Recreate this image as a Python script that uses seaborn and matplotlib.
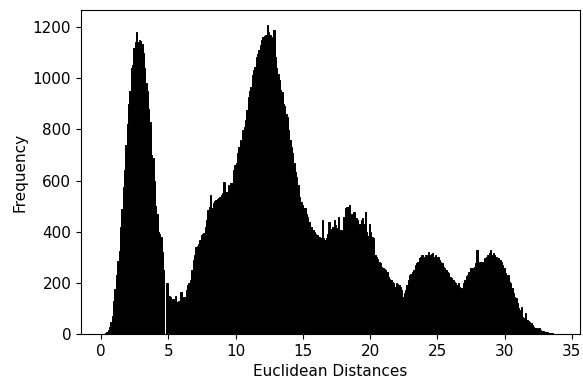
import numpy as np
import pandas as pd
import matplotlib
matplotlib.use("Agg")
import matplotlib.pyplot as plt
import seaborn as sns

# Histogram of pairwise Euclidean distances: counts per 0.1-wide bin from 0 to 34
bin_start = 0.0
bin_width = 0.1
bin_counts = [
    # 0 - 1
    0, 0, 1, 3, 6, 14, 28, 45, 70, 130,
    # 1 - 2
    175, 230, 285, 325, 420, 490, 575, 640, 740, 820,
    # 2 - 3
    900, 950, 1040, 1050, 1120, 1140, 1180, 1140, 1150, 1145,
    # 3 - 4
    1135, 1100, 1040, 980, 950, 880, 830, 700, 690, 600,
    # 4 - 5
    500, 470, 400, 390, 380, 320, 250, 0, 200, 198,
    # 5 - 6
    150, 146, 113, 135, 133, 149, 126, 128, 125, 165,
    # 6 - 7
    140, 146, 146, 172, 191, 200, 211, 250, 289, 309,
    # 7 - 8
    341, 345, 350, 367, 387, 390, 395, 419, 445, 484,
    # 8 - 9
    495, 543, 492, 511, 520, 524, 526, 530, 537, 545,
    # 9 - 10
    550, 595, 550, 555, 582, 563, 589, 592, 641, 660,
    # 10 - 11
    670, 706, 732, 760, 745, 797, 810, 836, 875, 927,
    # 11 - 12
    950, 966, 1012, 1031, 1044, 1083, 1095, 1109, 1129, 1148,
    # 12 - 13
    1161, 1165, 1168, 1207, 1182, 1170, 1161, 1135, 1187, 1083,
    # 13 - 14
    1040, 1018, 992, 953, 946, 901, 890, 862, 849, 797,
    # 14 - 15
    758, 730, 706, 667, 634, 615, 582, 537, 517, 504,
    # 15 - 16
    491, 491, 470, 458, 439, 419, 419, 406, 400, 393,
    # 16 - 17
    387, 380, 378, 374, 445, 374, 367, 375, 393, 439,
    # 17 - 18
    393, 410, 419, 445, 426, 413, 458, 406, 406, 399,
    # 18 - 19
    458, 491, 497, 497, 504, 432, 471, 478, 478, 452,
    # 19 - 20
    445, 426, 430, 445, 452, 432, 478, 400, 385, 432,
    # 20 - 21
    400, 380, 374, 309, 300, 295, 283, 276, 263, 257,
    # 21 - 22
    255, 250, 244, 224, 215, 211, 205, 198, 185, 198,
    # 22 - 23
    195, 192, 185, 172, 146, 160, 172, 192, 211, 231,
    # 23 - 24
    235, 244, 250, 270, 278, 283, 296, 302, 309, 296,
    # 24 - 25
    300, 309, 302, 322, 309, 312, 315, 302, 309, 296,
    # 25 - 26
    302, 289, 283, 276, 263, 257, 250, 244, 237, 224,
    # 26 - 27
    218, 210, 205, 198, 191, 198, 185, 178, 172, 198,
    # 27 - 28
    211, 225, 231, 244, 257, 257, 260, 263, 276, 328,
    # 28 - 29
    276, 283, 280, 276, 283, 296, 302, 309, 315, 330,
    # 29 - 30
    309, 315, 310, 302, 296, 296, 289, 280, 270, 257,
    # 30 - 31
    237, 225, 231, 205, 198, 178, 159, 145, 139, 120,
    # 31 - 32
    100, 94, 107, 68, 61, 81, 55, 50, 48, 42,
    # 32 - 33
    35, 29, 25, 22, 16, 22, 16, 12, 10, 9,
    # 33 - 34
    8, 7, 5, 4, 3, 2, 1, 1, 1, 0,
]

n_bins = len(bin_counts)
bin_end = bin_start + bin_width * n_bins
centers = bin_start + bin_width * (np.arange(n_bins) + 0.5)
df = pd.DataFrame({"distance": centers, "count": bin_counts})

fig = plt.figure(figsize=(5.83, 3.85), dpi=100)
ax = fig.add_axes([81 / 583, 1 - 334 / 385, (580 - 81) / 583, (334 - 10) / 385])

sns.histplot(
    data=df, x="distance", weights="count",
    binwidth=bin_width, binrange=(bin_start, bin_end),
    color="black", alpha=1.0, edgecolor="black", linewidth=0.7, ax=ax,
)

ax.set_xlim(-1.49, 35.6)
ax.set_ylim(0, 1267)
ax.set_xticks([0, 5, 10, 15, 20, 25, 30, 35])
ax.set_yticks([0, 200, 400, 600, 800, 1000, 1200])
ax.set_xlabel("Euclidean Distances", fontsize=11)
ax.set_ylabel("Frequency", fontsize=11)
ax.tick_params(labelsize=11)

fig.savefig("out.png", dpi=100)
